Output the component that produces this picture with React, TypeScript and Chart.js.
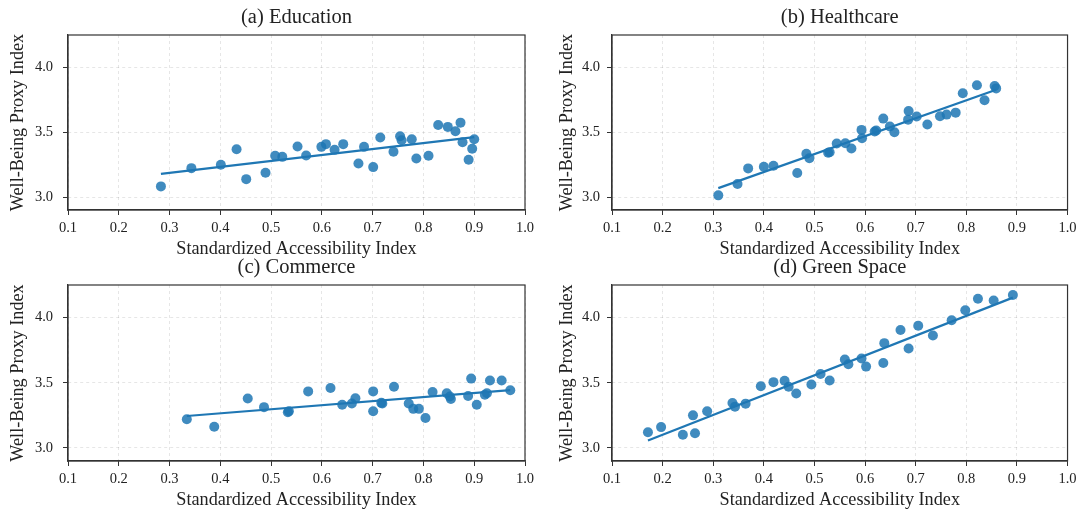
import React, { useEffect, useRef } from "react";
import { Chart, registerables } from "chart.js";

Chart.register(...registerables);

// ---------- data ----------
const eduX = [0.283, 0.343, 0.401, 0.432, 0.451, 0.489, 0.508, 0.522, 0.552, 0.569, 0.599, 0.608, 0.625, 0.642, 0.672, 0.683, 0.701, 0.715, 0.741, 0.754, 0.757, 0.777, 0.786, 0.810, 0.829, 0.848, 0.863, 0.873, 0.877, 0.889, 0.896, 0.900];
const eduY = [3.082, 3.223, 3.249, 3.369, 3.138, 3.187, 3.318, 3.310, 3.390, 3.321, 3.387, 3.408, 3.364, 3.408, 3.259, 3.387, 3.231, 3.459, 3.349, 3.469, 3.438, 3.446, 3.297, 3.318, 3.556, 3.541, 3.508, 3.574, 3.423, 3.287, 3.372, 3.446];
const eduTrendX = [0.283, 0.900];
const eduTrendY = [3.179, 3.462];

const healthX = [0.310, 0.348, 0.369, 0.400, 0.419, 0.466, 0.484, 0.490, 0.527, 0.530, 0.544, 0.561, 0.573, 0.593, 0.594, 0.619, 0.622, 0.636, 0.649, 0.658, 0.685, 0.686, 0.702, 0.723, 0.748, 0.761, 0.779, 0.793, 0.821, 0.836, 0.856, 0.859];
const healthY = [3.013, 3.100, 3.221, 3.233, 3.241, 3.185, 3.333, 3.300, 3.341, 3.346, 3.413, 3.415, 3.374, 3.518, 3.454, 3.505, 3.513, 3.605, 3.544, 3.500, 3.597, 3.664, 3.621, 3.559, 3.623, 3.636, 3.651, 3.800, 3.862, 3.746, 3.856, 3.838];
const healthTrendX = [0.310, 0.859];
const healthTrendY = [3.069, 3.828];

const commX = [0.334, 0.388, 0.454, 0.486, 0.533, 0.535, 0.573, 0.617, 0.640, 0.659, 0.666, 0.701, 0.701, 0.717, 0.719, 0.742, 0.771, 0.780, 0.791, 0.804, 0.818, 0.846, 0.852, 0.854, 0.888, 0.894, 0.905, 0.921, 0.925, 0.931, 0.954, 0.971];
const commY = [3.220, 3.163, 3.380, 3.313, 3.274, 3.282, 3.434, 3.460, 3.331, 3.341, 3.382, 3.434, 3.282, 3.346, 3.341, 3.470, 3.341, 3.300, 3.300, 3.230, 3.429, 3.419, 3.395, 3.375, 3.398, 3.532, 3.331, 3.408, 3.419, 3.517, 3.517, 3.442];
const commTrendX = [0.334, 0.971];
const commTrendY = [3.245, 3.444];

const greenX = [0.171, 0.197, 0.240, 0.260, 0.264, 0.288, 0.338, 0.343, 0.364, 0.394, 0.419, 0.441, 0.449, 0.464, 0.494, 0.512, 0.530, 0.560, 0.567, 0.593, 0.602, 0.636, 0.638, 0.670, 0.686, 0.705, 0.734, 0.771, 0.798, 0.823, 0.854, 0.892];
const greenY = [3.121, 3.160, 3.101, 3.250, 3.113, 3.281, 3.345, 3.317, 3.340, 3.474, 3.505, 3.515, 3.469, 3.418, 3.487, 3.567, 3.518, 3.678, 3.642, 3.686, 3.624, 3.652, 3.804, 3.905, 3.763, 3.938, 3.863, 3.979, 4.057, 4.144, 4.131, 4.173];
const greenTrendX = [0.171, 0.892];
const greenTrendY = [3.057, 4.153];

const xTicks = [0.1, 0.2, 0.3, 0.4, 0.5, 0.6, 0.7, 0.8, 0.9, 1.0];
const yTicks = [3.0, 3.5, 4.0];
const panelTitles = ["(a) Education", "(b) Healthcare", "(c) Commerce", "(d) Green Space"];
const xAxisTitle = "Standardized Accessibility Index";
const yAxisTitle = "Well-Being Proxy Index";

// ---------- style ----------
const SERIF = "'Liberation Serif', 'Times New Roman', 'DejaVu Serif', serif";
const TEXT = "#222";
const SPINE = "#333";
const POINT = "rgba(31,119,180,0.85)";
const LINE = "#1f77b4";

const boxPlugin = {
  id: "boxSpines",
  afterDraw(chart: any) {
    const { ctx, chartArea } = chart;
    ctx.save();
    ctx.strokeStyle = SPINE;
    ctx.lineWidth = 1.2;
    ctx.strokeRect(chartArea.left, chartArea.top, chartArea.right - chartArea.left, chartArea.bottom - chartArea.top);
    ctx.restore();
  },
};

type Panel = {
  xs: number[];
  ys: number[];
  tx: number[];
  ty: number[];
  title: string;
  col: number;
  row: number;
};

const panels: Panel[] = [
  { xs: eduX, ys: eduY, tx: eduTrendX, ty: eduTrendY, title: panelTitles[0], col: 0, row: 0 },
  { xs: healthX, ys: healthY, tx: healthTrendX, ty: healthTrendY, title: panelTitles[1], col: 1, row: 0 },
  { xs: commX, ys: commY, tx: commTrendX, ty: commTrendY, title: panelTitles[2], col: 0, row: 1 },
  { xs: greenX, ys: greenY, tx: greenTrendX, ty: greenTrendY, title: panelTitles[3], col: 1, row: 1 },
];

function PanelChart({ p }: { p: Panel }) {
  const ref = useRef<HTMLCanvasElement | null>(null);
  const width = p.col === 0 ? 540 : 541;
  const height = p.row === 0 ? 260 : 263;
  const left = p.col === 0 ? 0 : 540;
  const top = p.row === 0 ? 0 : 250;

  useEffect(() => {
    if (!ref.current) return;
    const pts = p.xs.map((x, i) => ({ x, y: p.ys[i] }));
    const trend = p.tx.map((x, i) => ({ x, y: p.ty[i] }));
    const chart = new Chart(ref.current, {
      type: "scatter",
      data: {
        datasets: [
          {
            data: trend,
            showLine: true,
            borderColor: LINE,
            borderWidth: 2.2,
            pointRadius: 0,
            order: 0,
          } as any,
          {
            data: pts,
            backgroundColor: POINT,
            borderWidth: 0,
            pointRadius: 5,
            order: 1,
          } as any,
        ],
      },
      options: {
        responsive: false,
        animation: false,
        layout: { padding: { left: 0, right: p.col === 0 ? 15 : 12, top: 0, bottom: 0 } },
        plugins: {
          legend: { display: false },
          tooltip: { enabled: false },
          title: {
            display: true,
            text: p.title,
            fullSize: false,
            color: TEXT,
            font: { family: SERIF, size: 20.5, weight: "normal" },
            padding: { top: 5.2, bottom: 5.2 },
          },
        },
        scales: {
          x: {
            type: "linear",
            min: 0.1,
            max: 1.0,
            afterBuildTicks: (s: any) => {
              s.ticks = xTicks.map((v) => ({ value: v }));
            },
            afterFit: (s: any) => {
              s.height = p.row === 0 ? 50 : 52;
            },
            ticks: {
              callback: (v: any) => Number(v).toFixed(1),
              font: { family: SERIF, size: 14.5 },
              color: TEXT,
              padding: 4.4,
              maxRotation: 0,
              autoSkip: false,
            },
            grid: {
              color: "rgba(0,0,0,0.14)",
              lineWidth: 0.7,
              tickLength: 5,
              tickColor: SPINE,
              tickWidth: 1,
              tickBorderDash: [],
            },
            border: { display: true, color: SPINE, width: 1.2, dash: [3, 3] },
            title: {
              display: true,
              text: xAxisTitle,
              color: TEXT,
              font: { family: SERIF, size: 18.2 },
              padding: { top: 0, bottom: p.row === 0 ? 0 : 2.1 },
            },
          },
          y: {
            type: "linear",
            min: 2.9,
            max: 4.25,
            afterBuildTicks: (s: any) => {
              s.ticks = yTicks.map((v) => ({ value: v }));
            },
            afterFit: (s: any) => {
              s.width = p.col === 0 ? 68 : 72;
            },
            ticks: {
              callback: (v: any) => Number(v).toFixed(1),
              font: { family: SERIF, size: 14.5 },
              color: TEXT,
              padding: p.col === 0 ? 10 : 7,
            },
            grid: {
              color: "rgba(0,0,0,0.14)",
              lineWidth: 0.7,
              tickLength: 5,
              tickColor: SPINE,
              tickWidth: 1,
              tickBorderDash: [],
            },
            border: { display: true, color: SPINE, width: 1.2, dash: [3, 3] },
            title: {
              display: true,
              text: yAxisTitle,
              color: TEXT,
              font: { family: SERIF, size: 18.2 },
              padding: { top: p.col === 0 ? 7.6 : 16.6, bottom: 0 },
            },
          },
        },
      } as any,
      plugins: [boxPlugin],
    });
    return () => chart.destroy();
  }, []);

  return (
    <canvas
      ref={ref}
      width={width}
      height={height}
      style={{ position: "absolute", left, top, width, height }}
    />
  );
}

export default function App() {
  return (
    <div
      style={{
        position: "fixed",
        left: 0,
        top: 0,
        width: 1081,
        height: 513,
        background: "#fff",
        overflow: "hidden",
      }}
    >
      {panels.map((p, i) => (
        <PanelChart key={i} p={p} />
      ))}
    </div>
  );
}
